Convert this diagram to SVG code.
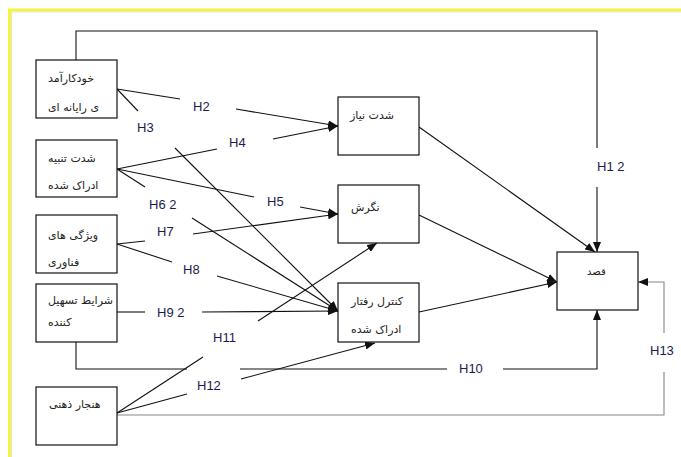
<svg xmlns="http://www.w3.org/2000/svg" width="681" height="457" viewBox="0 0 681 457">
<style>
.box{fill:#fff;stroke:#111;stroke-width:1.2}
.fa{font-family:"DejaVu Sans",sans-serif;font-size:11px;fill:#222}
.h{font-family:"Liberation Sans",Arial,sans-serif;font-size:13px;fill:#1c1c4c}
.c{fill:none;stroke:#111;stroke-width:1.1}
.g{fill:none;stroke:#888;stroke-width:1.1}
</style>
<defs>
<marker id="ah" markerUnits="userSpaceOnUse" markerWidth="10" markerHeight="8" refX="10" refY="4" orient="auto">
<path d="M0,0 L10,4 L0,8 z" fill="#111"/>
</marker>
</defs>
<rect width="681" height="457" fill="#fff"/>
<path d="M9.5,457 V10 H681" fill="none" stroke="#f4f43a" stroke-width="3"/>
<path d="M11.5,457 V12 H681" fill="none" stroke="#ddd" stroke-width="0.8"/>

<g id="connectors">
<polyline class="c" points="76,60 76,31 597,31 597,148"/>
<line class="c" x1="597" y1="187" x2="597" y2="252" marker-end="url(#ah)"/>
<line class="c" x1="117" y1="89" x2="180" y2="99"/>
<line class="c" x1="236" y1="109" x2="338" y2="126" marker-end="url(#ah)"/>
<line class="c" x1="117" y1="89" x2="138" y2="111"/>
<line class="c" x1="175" y1="148" x2="338" y2="311" marker-end="url(#ah)"/>
<line class="c" x1="117" y1="169" x2="217" y2="149"/>
<line class="c" x1="273" y1="139" x2="338" y2="126" marker-end="url(#ah)"/>
<line class="c" x1="117" y1="169" x2="254" y2="197"/>
<line class="c" x1="300" y1="207" x2="338" y2="214" marker-end="url(#ah)"/>
<line class="c" x1="117" y1="169" x2="145" y2="187"/>
<line class="c" x1="192" y1="218" x2="338" y2="311" marker-end="url(#ah)"/>
<line class="c" x1="117" y1="244" x2="145" y2="241"/>
<line class="c" x1="193" y1="234" x2="338" y2="214" marker-end="url(#ah)"/>
<line class="c" x1="117" y1="244" x2="172" y2="262"/>
<line class="c" x1="217" y1="276" x2="338" y2="311" marker-end="url(#ah)"/>
<line class="c" x1="117" y1="312" x2="145" y2="312"/>
<line class="c" x1="202" y1="312" x2="338" y2="311" marker-end="url(#ah)"/>
<polyline class="c" points="76,342 76,369 187,369"/>
<line class="c" x1="240" y1="369" x2="447" y2="369"/>
<polyline class="c" points="503,369 597,369 597,310" marker-end="url(#ah)"/>
<line class="c" x1="117" y1="413" x2="203" y2="357"/>
<line class="c" x1="258" y1="321" x2="377" y2="243" marker-end="url(#ah)"/>
<line class="c" x1="117" y1="413" x2="187" y2="394"/>
<line class="c" x1="241" y1="379" x2="375" y2="343" marker-end="url(#ah)"/>
<polyline class="g" points="117,415 664,415 664,372"/>
<polyline class="g" points="664,333 664,282 638,282" marker-end="url(#ah)"/>
<line class="c" x1="419" y1="127" x2="595" y2="252" marker-end="url(#ah)"/>
<line class="c" x1="419" y1="215" x2="557" y2="282" marker-end="url(#ah)"/>
<line class="c" x1="419" y1="312" x2="557" y2="282" marker-end="url(#ah)"/>
<text class="h" x="193" y="111">H2</text>
<text class="h" x="137" y="132">H3</text>
<text class="h" x="229" y="147">H4</text>
<text class="h" x="267" y="206">H5</text>
<text class="h" x="149" y="209">H6 2</text>
<text class="h" x="157" y="236">H7</text>
<text class="h" x="183" y="274">H8</text>
<text class="h" x="157" y="317">H9 2</text>
<text class="h" x="213" y="342">H11</text>
<text class="h" x="197" y="390">H12</text>
<text class="h" x="459" y="373">H10</text>
<text class="h" x="597" y="171">H1 2</text>
<text class="h" x="650" y="355">H13</text>
</g>

<g id="n1"><rect class="box" x="36" y="60" width="81" height="58"/>
<text class="fa" x="48" y="82">خودکارآمد</text><text class="fa" x="48" y="111">ی رایانه ای</text></g>
<g id="n2"><rect class="box" x="36" y="140" width="81" height="57"/>
<text class="fa" x="48" y="162">شدت تنبیه</text><text class="fa" x="48" y="189">ادراک شده</text></g>
<g id="n3"><rect class="box" x="36" y="215" width="81" height="58"/>
<text class="fa" x="48" y="239">ویژگی های</text><text class="fa" x="48" y="266">فناوری</text></g>
<g id="n4"><rect class="box" x="36" y="284" width="81" height="58"/>
<text class="fa" x="48" y="304">شرایط تسهیل</text><text class="fa" x="48" y="326">کننده</text></g>
<g id="n5"><rect class="box" x="36" y="387" width="81" height="58"/>
<text class="fa" x="49" y="408">هنجار ذهنی</text></g>
<g id="nA"><rect class="box" x="338" y="97" width="81" height="58"/>
<text class="fa" x="350" y="119">شدت نیاز</text></g>
<g id="nB"><rect class="box" x="338" y="185" width="81" height="58"/>
<text class="fa" x="351" y="211">نگرش</text></g>
<g id="nC"><rect class="box" x="338" y="283" width="81" height="59"/>
<text class="fa" x="351" y="305">کنترل رفتار</text><text class="fa" x="351" y="333">ادراک شده</text></g>
<g id="nD"><rect class="box" x="557" y="252" width="81" height="58"/>
<text class="fa" x="587" y="275" style="font-size:10px">قصد</text></g>
</svg>
